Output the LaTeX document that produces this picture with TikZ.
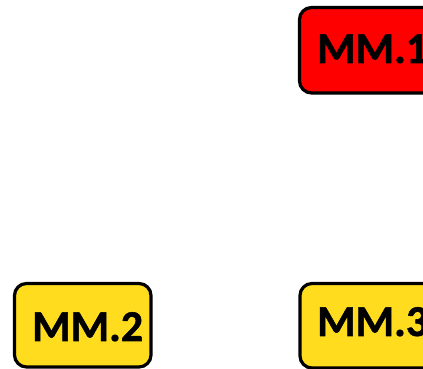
\documentclass[tikz,border=0pt]{standalone}
\usepackage{fontspec}
\newfontfamily\lblfont{Carlito Bold}[FakeBold=1.2]
\begin{document}
\begin{tikzpicture}[x=1pt,y=1pt,
  boxst/.style={draw=black,line width=3.2pt,rounded corners=12pt},
  lbl/.style={anchor=base west,inner sep=0pt,font=\fontsize{44}{44}\lblfont}]
\useasboundingbox (0,0) rectangle (423,369);
\clip (0,0) rectangle (423,369);
\filldraw[boxst,fill=red] (299.5,276) rectangle (470,361.5);
\filldraw[boxst,fill={rgb,255:red,255;green,221;blue,30}] (14.5,2) rectangle (151,85.5);
\filldraw[boxst,fill={rgb,255:red,255;green,221;blue,30}] (300,1) rectangle (470,85.5);
\node[lbl] (m1) at (317,306) {MM.1};
\node[lbl] (m2) at (32,28) {MM.2};
\node[lbl] (m3) at (317,33) {MM.3};
\end{tikzpicture}
\end{document}
